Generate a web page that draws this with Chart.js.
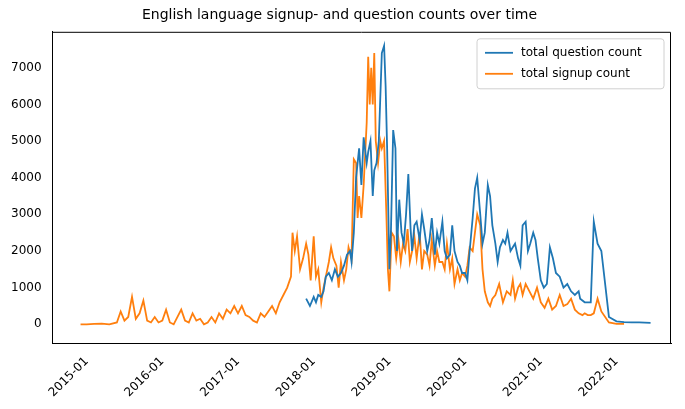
<!DOCTYPE html>
<html>
<head>
<meta charset="utf-8">
<script src="https://cdn.jsdelivr.net/npm/chart.js@4"></script>
<style>
  html, body { margin: 0; padding: 0; background: #fff; }
  #wrap { width: 685px; height: 409px; }
</style>
</head>
<body>
<div id="wrap"><canvas id="chart"></canvas></div>
<script>
// decimal years and counts
const signupX = [2014.92,2015.0,2015.1,2015.2,2015.3,2015.4,2015.45,2015.5,2015.55,2015.6,2015.65,2015.7,2015.75,2015.8,2015.85,2015.9,2015.95,2016.0,2016.05,2016.1,2016.15,2016.25,2016.3,2016.35,2016.4,2016.45,2016.5,2016.55,2016.6,2016.65,2016.7,2016.75,2016.8,2016.85,2016.9,2016.95,2017.0,2017.05,2017.1,2017.15,2017.2,2017.25,2017.3,2017.35,2017.4,2017.45,2017.5,2017.55,2017.6,2017.65,2017.7,2017.72,2017.75,2017.78,2017.82,2017.86,2017.9,2017.93,2017.96,2018.0,2018.03,2018.06,2018.1,2018.13,2018.16,2018.2,2018.23,2018.26,2018.3,2018.33,2018.36,2018.4,2018.43,2018.46,2018.5,2018.53,2018.56,2018.58,2018.6,2018.63,2018.66,2018.7,2018.72,2018.74,2018.76,2018.78,2018.8,2018.82,2018.85,2018.88,2018.9,2018.93,2018.96,2018.98,2019.0,2019.03,2019.06,2019.09,2019.12,2019.15,2019.18,2019.21,2019.24,2019.27,2019.3,2019.33,2019.36,2019.4,2019.43,2019.46,2019.5,2019.53,2019.56,2019.6,2019.63,2019.66,2019.7,2019.73,2019.76,2019.8,2019.83,2019.86,2019.9,2019.93,2019.96,2020.0,2020.03,2020.06,2020.1,2020.13,2020.16,2020.2,2020.23,2020.26,2020.3,2020.33,2020.36,2020.4,2020.45,2020.5,2020.55,2020.6,2020.63,2020.66,2020.7,2020.73,2020.76,2020.8,2020.85,2020.9,2020.95,2021.0,2021.05,2021.1,2021.15,2021.2,2021.25,2021.3,2021.35,2021.4,2021.45,2021.5,2021.55,2021.58,2021.62,2021.66,2021.7,2021.75,2021.8,2021.9,2022.0,2022.1];
const signupY = [0,0,10,20,0,50,350,100,200,750,150,300,650,100,50,200,50,100,400,50,0,400,100,50,300,100,150,0,50,200,50,300,150,400,300,500,300,500,250,200,100,50,300,200,350,500,300,600,800,1000,1300,2500,2000,2400,1500,1800,2200,1900,1200,2400,1300,1500,600,1000,1300,1700,2100,1800,1600,1000,1700,1200,1500,2100,1800,4500,4400,2900,3500,2900,3800,5500,7300,6000,7000,6000,7400,5000,4400,5000,4800,5000,3000,1500,900,2500,2400,1800,2300,1700,2200,2000,2600,1700,2000,2400,1800,2500,1500,2000,1900,1600,2300,1600,2000,1700,1700,1500,2200,1500,1800,1100,1500,1200,1400,1300,1600,2100,2000,2500,3000,2700,1500,900,600,500,700,800,1100,600,900,800,1200,700,1000,1100,800,1100,900,700,1000,600,450,700,400,500,800,500,550,700,400,300,250,300,250,250,300,700,350,50,10,10,10,10];

const questionX = [2017.9,2017.95,2018.0,2018.03,2018.06,2018.1,2018.13,2018.16,2018.2,2018.24,2018.28,2018.32,2018.36,2018.4,2018.44,2018.48,2018.5,2018.53,2018.56,2018.6,2018.63,2018.66,2018.7,2018.72,2018.75,2018.78,2018.8,2018.83,2018.86,2018.9,2018.93,2018.95,2018.97,2019.0,2019.02,2019.05,2019.08,2019.1,2019.13,2019.16,2019.19,2019.22,2019.25,2019.28,2019.3,2019.33,2019.36,2019.4,2019.43,2019.46,2019.5,2019.53,2019.56,2019.6,2019.63,2019.66,2019.7,2019.73,2019.76,2019.8,2019.83,2019.86,2019.9,2019.93,2019.96,2020.0,2020.03,2020.06,2020.1,2020.13,2020.16,2020.2,2020.23,2020.26,2020.3,2020.33,2020.36,2020.4,2020.43,2020.46,2020.5,2020.53,2020.56,2020.6,2020.63,2020.66,2020.7,2020.73,2020.76,2020.8,2020.83,2020.86,2020.9,2020.93,2020.96,2021.0,2021.04,2021.08,2021.12,2021.16,2021.2,2021.25,2021.3,2021.35,2021.4,2021.45,2021.5,2021.52,2021.55,2021.58,2021.62,2021.66,2021.7,2021.75,2021.8,2021.9,2022.0,2022.1,2022.2,2022.3,2022.45];
const questionY = [700,500,750,600,800,750,900,1300,1400,1200,1500,1300,1400,1600,1900,2000,1700,2500,4000,4800,3800,5100,4400,4700,5000,3500,4200,4400,5000,7400,7600,6500,4800,1500,2500,5300,4800,2000,3400,2500,2200,3000,4100,2600,2000,2700,2800,2300,3000,2600,2000,2300,2900,1900,2500,2200,2800,2000,1800,1900,2700,2000,1700,1600,1400,1400,1200,2000,2900,3700,4000,3000,2200,2500,3800,3500,2700,2200,1700,2100,2300,2200,2500,2000,2100,2200,1800,1600,2700,2800,2000,2200,2500,2300,1800,1200,1000,1100,2100,1800,1400,1300,1000,1100,900,800,900,700,650,600,600,600,2800,2200,2000,200,80,60,50,50,40,20,20];

const xTicks = [2015,2016,2017,2018,2019,2020,2021,2022];
const yTicks = [0,1000,2000,3000,4000,5000,6000,7000];

new Chart(document.getElementById("chart"), {
    type: "line",
    data: {
        datasets: [
            {
                label: "total question count",
                data: questionX.map((x, i) => ({ x: x, y: questionY[i] })),
                borderColor: "#1f77b4",
                backgroundColor: "#1f77b4",
                borderWidth: 1.8,
                pointRadius: 0,
                tension: 0
            },
            {
                label: "total signup count",
                data: signupX.map((x, i) => ({ x: x, y: signupY[i] })),
                borderColor: "#ff7f0e",
                backgroundColor: "#ff7f0e",
                borderWidth: 1.8,
                pointRadius: 0,
                tension: 0
            }
        ]
    },
    options: {
        responsive: true,
        maintainAspectRatio: false,
        animation: false,
        layout: { padding: { left: 8, right: 14, top: 0, bottom: 6 } },
        plugins: {
            title: {
                display: true,
                text: "English language signup- and question counts over time",
                color: "#000",
                font: { family: "DejaVu Sans", size: 14, weight: "normal" },
                padding: { top: 7, bottom: 8 }
            },
            legend: { display: false }
        },
        scales: {
            x: {
                type: "linear",
                min: 2014.55,
                max: 2022.72,
                afterBuildTicks: axis => { axis.ticks = xTicks.map(v => ({ value: v })); },
                ticks: {
                    color: "#000",
                    maxRotation: 45,
                    minRotation: 45,
                    font: { family: "DejaVu Sans", size: 12 },
                    callback: v => v + "-01"
                },
                grid: { display: false, drawTicks: true, tickColor: "#000" },
                border: { color: "#000" }
            },
            y: {
                min: -520,
                max: 7980,
                afterBuildTicks: axis => { axis.ticks = yTicks.map(v => ({ value: v })); },
                ticks: {
                    color: "#000",
                    font: { family: "DejaVu Sans", size: 12 },
                    callback: v => String(v)
                },
                grid: { display: false, drawTicks: true, tickColor: "#000" },
                border: { color: "#000" }
            }
        }
    },
    plugins: [{
        id: "frameAndLegend",
        afterDatasetsDraw(chart) {
            const ctx = chart.ctx, a = chart.chartArea;
            ctx.save();
            ctx.strokeStyle = "#000";
            ctx.lineWidth = 1;
            ctx.beginPath();
            ctx.moveTo(a.left, a.top + 0.5);
            ctx.lineTo(a.right - 0.5, a.top + 0.5);
            ctx.lineTo(a.right - 0.5, a.bottom);
            ctx.stroke();

            // legend box, top right
            const w = 187, h = 50, x0 = a.right - w - 7, y0 = a.top + 7;
            ctx.fillStyle = "rgba(255,255,255,0.8)";
            ctx.strokeStyle = "#d0d0d0";
            ctx.beginPath();
            ctx.roundRect(x0, y0, w, h, 3);
            ctx.fill();
            ctx.stroke();
            ctx.font = "12px 'DejaVu Sans'";
            ctx.textBaseline = "middle";
            chart.data.datasets.forEach((ds, i) => {
                const yy = y0 + 14 + i * 21;
                ctx.strokeStyle = ds.borderColor;
                ctx.lineWidth = 1.8;
                ctx.beginPath();
                ctx.moveTo(x0 + 8, yy);
                ctx.lineTo(x0 + 36, yy);
                ctx.stroke();
                ctx.fillStyle = "#000";
                ctx.fillText(ds.label, x0 + 44, yy);
            });
            ctx.restore();
        }
    }]
});
</script>
</body>
</html>
